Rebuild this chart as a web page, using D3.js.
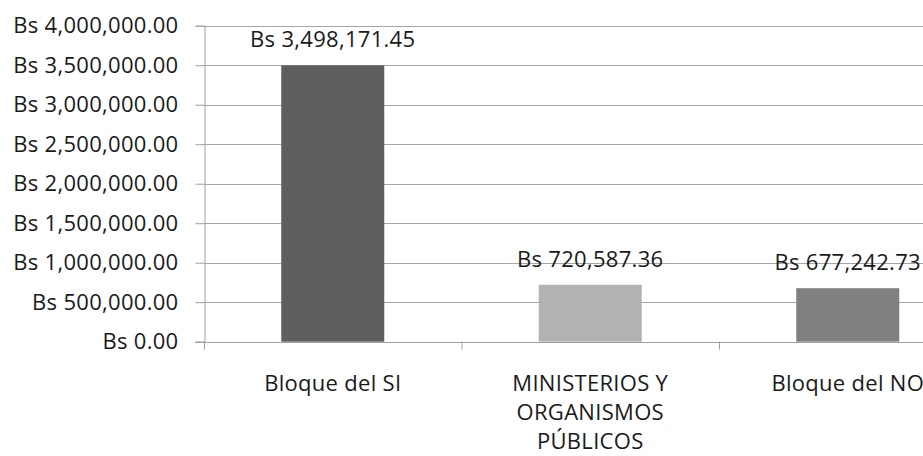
<!DOCTYPE html>
<html>
<head>
<meta charset="utf-8">
<style>
  body { margin: 0; background: #fff; }
  text { font-family: "Open Sans", sans-serif; fill: #1a1a1a; letter-spacing: 0.3px; }
</style>
</head>
<body>
<div id="chart"></div>
<script src="https://cdn.jsdelivr.net/npm/d3@7/dist/d3.min.js"></script>
<script>
var categories = ["Bloque del SI", "MINISTERIOS Y ORGANISMOS PÚBLICOS", "Bloque del NO"];
var categoryLines = [["Bloque del SI"], ["MINISTERIOS Y", "ORGANISMOS", "PÚBLICOS"], ["Bloque del NO"]];
var values = [3498171.45, 720587.36, 677242.73];
var barColors = ["#5f5f5f", "#b2b2b2", "#808080"];
var yTicks = [0, 500000, 1000000, 1500000, 2000000, 2500000, 3000000, 3500000, 4000000];

var width = 923, height = 456;
var plotLeft = 204, plotBase = 341.7, plotTop = 25.7, step = 257.5;

var svg = d3.select("#chart").append("svg")
  .attr("width", width)
  .attr("height", height);

var x = d3.scaleBand()
  .domain(categories)
  .range([plotLeft, plotLeft + step * categories.length])
  .paddingInner(0.6)
  .paddingOuter(0.3);

var y = d3.scaleLinear().domain([0, 4000000]).range([plotBase, plotTop]);

var fmt = function(v) { return "Bs " + d3.format(",.2f")(v); };

// gridlines
svg.append("g").selectAll("line")
  .data(yTicks.slice(1))
  .enter().append("line")
  .attr("x1", plotLeft).attr("x2", width)
  .attr("y1", function(d) { return Math.round(y(d)) + 0.5; })
  .attr("y2", function(d) { return Math.round(y(d)) + 0.5; })
  .attr("stroke", "#a6a6a6");

// y axis
var yAxis = svg.append("g")
  .attr("transform", "translate(" + (plotLeft + 0.5) + ",0)")
  .call(d3.axisLeft(y).tickValues(yTicks).tickFormat(fmt).tickSize(9).tickPadding(17));
yAxis.select(".domain").attr("stroke", "#a0a0a0");
yAxis.selectAll(".tick line").attr("stroke", "#a0a0a0");
yAxis.selectAll(".tick text")
  .style("font-size", "22px")
  .style("font-family", "'Open Sans', sans-serif")
  .attr("fill", "#1a1a1a");

// bars
svg.append("g").selectAll("rect")
  .data(values)
  .enter().append("rect")
  .attr("x", function(d, i) { return x(categories[i]); })
  .attr("width", x.bandwidth())
  .attr("y", function(d) { return y(d); })
  .attr("height", function(d) { return plotBase - y(d); })
  .attr("fill", function(d, i) { return barColors[i]; });

// x axis
svg.append("line")
  .attr("x1", plotLeft - 9).attr("x2", width)
  .attr("y1", Math.round(plotBase) + 0.5).attr("y2", Math.round(plotBase) + 0.5)
  .attr("stroke", "#a0a0a0");
svg.append("g").selectAll("line")
  .data(d3.range(categories.length + 1))
  .enter().append("line")
  .attr("x1", function(d) { return plotLeft + 0.5 + d * x.step(); })
  .attr("x2", function(d) { return plotLeft + 0.5 + d * x.step(); })
  .attr("y1", plotBase).attr("y2", plotBase + 8)
  .attr("stroke", "#a0a0a0");

// value labels
svg.append("g").selectAll("text")
  .data(values)
  .enter().append("text")
  .attr("x", function(d, i) { return x(categories[i]) + x.bandwidth() / 2; })
  .attr("y", function(d) { return y(d) - 18; })
  .attr("text-anchor", "middle")
  .style("font-size", "22px")
  .text(fmt);

// category labels
var cat = svg.append("g").selectAll("text")
  .data(categories)
  .enter().append("text")
  .attr("x", function(d) { return x(d) + x.bandwidth() / 2; })
  .attr("y", 391)
  .attr("text-anchor", "middle")
  .style("font-size", "22px");
cat.each(function(d, i) {
  var t = d3.select(this);
  categoryLines[i].forEach(function(line, j) {
    t.append("tspan")
      .attr("x", x(d) + x.bandwidth() / 2)
      .attr("dy", j === 0 ? 0 : 29)
      .text(line);
  });
});
</script>
</body>
</html>
